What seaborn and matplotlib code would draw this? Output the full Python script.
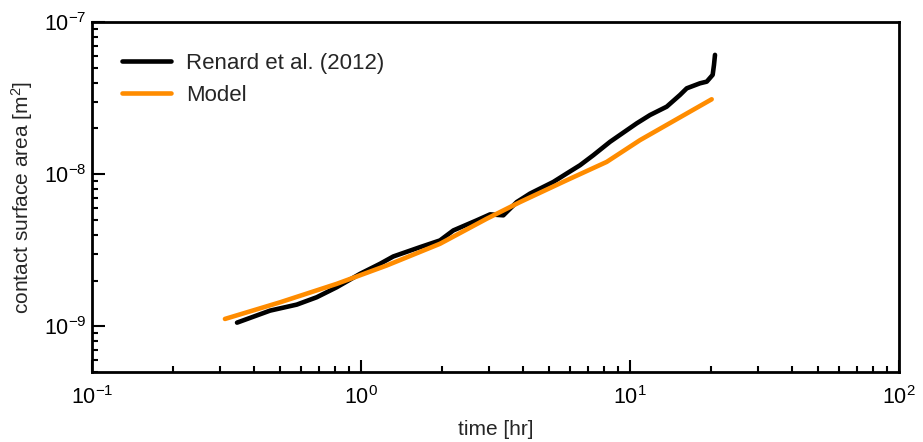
import numpy as np
import pandas as pd
import matplotlib
matplotlib.use("Agg")
import matplotlib.pyplot as plt
import seaborn as sns
from matplotlib.ticker import LogLocator

# Data
exp_time = [0.346, 0.459, 0.577, 0.684, 0.812, 0.992, 1.177, 1.318, 1.657, 1.966,
            2.204, 2.692, 3.019, 3.381, 3.792, 4.249, 5.187, 5.816, 6.519, 7.306,
            8.427, 10.59, 11.87, 13.69, 15.34, 16.25, 18.20, 19.29, 20.29, 20.52, 20.70]
exp_area = [1.058e-9, 1.269e-9, 1.39e-9, 1.553e-9, 1.807e-9, 2.215e-9, 2.578e-9, 2.88e-9,
            3.316e-9, 3.672e-9, 4.272e-9, 4.975e-9, 5.448e-9, 5.37e-9, 6.56e-9, 7.46e-9,
            8.90e-9, 1.011e-8, 1.146e-8, 1.334e-8, 1.633e-8, 2.16e-8, 2.45e-8, 2.78e-8,
            3.32e-8, 3.67e-8, 3.96e-8, 4.06e-8, 4.50e-8, 5.23e-8, 6.09e-8]
model_time = [0.312, 0.500, 0.812, 1.246, 1.966, 2.934, 3.90, 5.816, 8.19, 10.89, 20.12]
model_area = [1.119e-9, 1.439e-9, 1.903e-9, 2.513e-9, 3.49e-9, 5.10e-9, 6.56e-9,
              9.13e-9, 1.205e-8, 1.675e-8, 3.11e-8]

series_names = ["Renard et al. (2012)", "Model"]
series_colors = ["#000000", "#ff8c00"]

sns.set_style("ticks")
plt.rcParams["font.family"] = ["Liberation Sans", "DejaVu Sans"]
plt.rcParams["mathtext.fontset"] = "custom"
plt.rcParams["mathtext.rm"] = "Liberation Sans"
plt.rcParams["mathtext.it"] = "Liberation Sans:italic"
plt.rcParams["mathtext.bf"] = "Liberation Sans:bold"

fig = plt.figure(figsize=(9.23, 4.42), dpi=100)
ax = fig.add_axes([0.0997, 0.158, 0.8743, 0.792])

df_exp = pd.DataFrame({"t": exp_time, "A": exp_area})
df_mod = pd.DataFrame({"t": model_time, "A": model_area})
sns.lineplot(data=df_exp, x="t", y="A", ax=ax, color=series_colors[0], lw=3.3,
             sort=False, label=series_names[0])
sns.lineplot(data=df_mod, x="t", y="A", ax=ax, color=series_colors[1], lw=3.3,
             sort=False, label=series_names[1])

ax.set_xscale("log")
ax.set_yscale("log")
ax.set_xlim(0.1, 100)
ax.set_ylim(5e-10, 1e-7)
ax.xaxis.set_major_locator(LogLocator(base=10, numticks=10))
ax.yaxis.set_major_locator(LogLocator(base=10, numticks=10))
ax.xaxis.set_minor_locator(LogLocator(base=10, subs=np.arange(2, 10), numticks=20))
ax.yaxis.set_minor_locator(LogLocator(base=10, subs=np.arange(2, 10), numticks=20))

for s in ax.spines.values():
    s.set_linewidth(2.0)
    s.set_color("black")
ax.tick_params(which="both", direction="in", top=False, right=False, width=1.5,
               colors="black", labelsize=15.5)
ax.tick_params(axis="x", which="major", length=9, pad=10)
ax.tick_params(axis="y", which="major", length=9, pad=4)
ax.tick_params(which="minor", length=4.5)

ax.set_xlabel("time [hr]", fontsize=15, labelpad=8)
ax.set_ylabel("contact surface area [m$^2$]", fontsize=15, labelpad=6)

leg = ax.legend(loc="upper left", frameon=False, fontsize=16, handlelength=2.2,
                handletextpad=0.7, labelspacing=0.5, borderpad=0.4,
                bbox_to_anchor=(0.0124, 0.969))

fig.savefig("out.png", dpi=100)
